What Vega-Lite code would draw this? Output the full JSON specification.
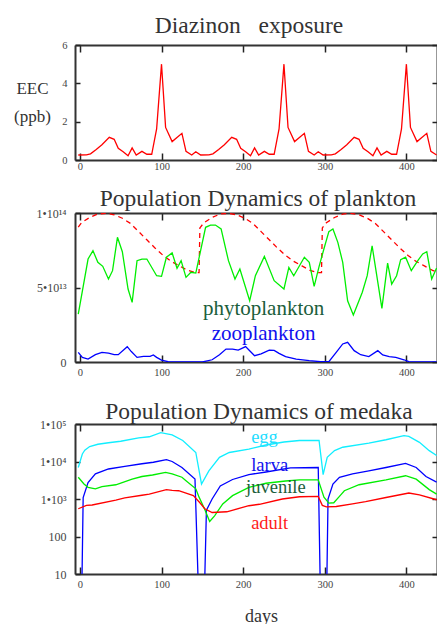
{
  "$schema": "https://vega.github.io/schema/vega-lite/v6.json",
  "padding": {"left": 13, "top": 13, "right": 0, "bottom": 0},
  "spacing": 0,
  "bounds": "flush",
  "resolve": {"scale": {"color": "independent"}},
  "config": {
    "view": {"stroke": null},
    "axis": {"labelFont": "Liberation Serif", "labelFontSize": 10.5, "labelColor": "#444", "tickColor": "#222", "tickWidth": 1.5, "domainColor": "#333", "domainWidth": 2, "grid": false, "titleFont": "Liberation Serif", "titleFontWeight": "normal", "titleColor": "#333", "labelOverlap": false},
    "title": {"font": "Liberation Serif", "fontSize": 23.5, "fontWeight": "normal", "color": "#333", "baseline": "alphabetic"}
  },
  "datasets": {
    "eec": [
      {"day": -2, "value": 0.26}, {"day": 8, "value": 0.27}, {"day": 13, "value": 0.32}, {"day": 20, "value": 0.55}, {"day": 27, "value": 0.8}, {"day": 36, "value": 1.18}, {"day": 42, "value": 1.08}, {"day": 47, "value": 0.61}, {"day": 53, "value": 0.43}, {"day": 59, "value": 0.22}, {"day": 64, "value": 0.63}, {"day": 69, "value": 0.26}, {"day": 76, "value": 0.45}, {"day": 82, "value": 0.3}, {"day": 88, "value": 0.3}, {"day": 94, "value": 1.62}, {"day": 100, "value": 5.0}, {"day": 105, "value": 1.7}, {"day": 113, "value": 0.96}, {"day": 125, "value": 1.39}, {"day": 130, "value": 0.45}, {"day": 137, "value": 0.26}, {"day": 142, "value": 0.43}, {"day": 148, "value": 0.26},
      {"day": 158, "value": 0.27}, {"day": 163, "value": 0.32}, {"day": 170, "value": 0.55}, {"day": 177, "value": 0.8}, {"day": 186, "value": 1.18}, {"day": 192, "value": 1.08}, {"day": 197, "value": 0.61}, {"day": 203, "value": 0.43}, {"day": 209, "value": 0.22}, {"day": 214, "value": 0.63}, {"day": 219, "value": 0.26}, {"day": 226, "value": 0.45}, {"day": 232, "value": 0.3}, {"day": 238, "value": 0.3}, {"day": 244, "value": 1.62}, {"day": 250, "value": 5.0}, {"day": 255, "value": 1.7}, {"day": 263, "value": 0.96}, {"day": 275, "value": 1.39}, {"day": 280, "value": 0.45}, {"day": 287, "value": 0.26}, {"day": 292, "value": 0.43}, {"day": 298, "value": 0.26},
      {"day": 308, "value": 0.27}, {"day": 313, "value": 0.32}, {"day": 320, "value": 0.55}, {"day": 327, "value": 0.8}, {"day": 336, "value": 1.18}, {"day": 342, "value": 1.08}, {"day": 347, "value": 0.61}, {"day": 353, "value": 0.43}, {"day": 359, "value": 0.22}, {"day": 364, "value": 0.63}, {"day": 369, "value": 0.26}, {"day": 376, "value": 0.45}, {"day": 382, "value": 0.3}, {"day": 388, "value": 0.3}, {"day": 394, "value": 1.62}, {"day": 400, "value": 5.0}, {"day": 405, "value": 1.7}, {"day": 413, "value": 0.96}, {"day": 425, "value": 1.39}, {"day": 430, "value": 0.45}, {"day": 437, "value": 0.26}
    ],
    "cap": [
      {"day": -2, "value": 9.05e13}, {"day": 2, "value": 9.35e13}, {"day": 12, "value": 9.7e13}, {"day": 22, "value": 9.93e13}, {"day": 32, "value": 9.98e13}, {"day": 42, "value": 9.88e13}, {"day": 52, "value": 9.65e13}, {"day": 62, "value": 9.3e13}, {"day": 72, "value": 8.75e13}, {"day": 82, "value": 8.2e13}, {"day": 92, "value": 7.65e13}, {"day": 102, "value": 7.15e13}, {"day": 112, "value": 6.75e13}, {"day": 122, "value": 6.45e13}, {"day": 132, "value": 6.15e13}, {"day": 142, "value": 6.0e13}, {"day": 146, "value": 6.0e13},
      {"day": 147, "value": 9.0e13}, {"day": 152, "value": 9.35e13}, {"day": 162, "value": 9.7e13}, {"day": 172, "value": 9.93e13}, {"day": 182, "value": 9.98e13}, {"day": 192, "value": 9.88e13}, {"day": 202, "value": 9.65e13}, {"day": 212, "value": 9.3e13}, {"day": 222, "value": 8.75e13}, {"day": 232, "value": 8.2e13}, {"day": 242, "value": 7.65e13}, {"day": 252, "value": 7.15e13}, {"day": 262, "value": 6.75e13}, {"day": 272, "value": 6.45e13}, {"day": 282, "value": 6.15e13}, {"day": 292, "value": 6.0e13}, {"day": 296, "value": 6.0e13},
      {"day": 297, "value": 9.0e13}, {"day": 302, "value": 9.35e13}, {"day": 312, "value": 9.7e13}, {"day": 322, "value": 9.93e13}, {"day": 332, "value": 9.98e13}, {"day": 342, "value": 9.88e13}, {"day": 352, "value": 9.65e13}, {"day": 362, "value": 9.3e13}, {"day": 372, "value": 8.75e13}, {"day": 382, "value": 8.2e13}, {"day": 392, "value": 7.65e13}, {"day": 402, "value": 7.15e13}, {"day": 412, "value": 6.75e13}, {"day": 422, "value": 6.45e13}, {"day": 432, "value": 6.15e13}, {"day": 437, "value": 6.05e13}
    ],
    "phyto": [
      {"day": -2, "value": 3.22e13}, {"day": 10, "value": 6.91e13}, {"day": 16, "value": 7.47e13}, {"day": 22, "value": 6.69e13}, {"day": 28, "value": 6.42e13}, {"day": 35, "value": 5.57e13}, {"day": 40, "value": 6.13e13}, {"day": 46, "value": 8.37e13}, {"day": 52, "value": 7.4e13}, {"day": 59, "value": 4.9e13}, {"day": 64, "value": 4.0e13}, {"day": 70, "value": 6.8e13}, {"day": 76, "value": 6.91e13}, {"day": 82, "value": 6.91e13}, {"day": 94, "value": 5.79e13}, {"day": 100, "value": 5.75e13}, {"day": 106, "value": 7.03e13}, {"day": 113, "value": 7.32e13}, {"day": 119, "value": 6.29e13}, {"day": 124, "value": 6.8e13}, {"day": 130, "value": 5.68e13}, {"day": 136, "value": 6.02e13}, {"day": 142, "value": 5.97e13}, {"day": 154, "value": 9.04e13}, {"day": 160, "value": 9.19e13}, {"day": 166, "value": 9.19e13}, {"day": 173, "value": 8.93e13}, {"day": 182, "value": 6.8e13}, {"day": 190, "value": 5.57e13}, {"day": 196, "value": 6.24e13}, {"day": 208, "value": 4.11e13}, {"day": 215, "value": 5.79e13}, {"day": 226, "value": 7.09e13}, {"day": 238, "value": 5.46e13}, {"day": 250, "value": 4.9e13}, {"day": 256, "value": 6.35e13}, {"day": 262, "value": 5.79e13}, {"day": 275, "value": 7.03e13}, {"day": 281, "value": 6.69e13}, {"day": 287, "value": 5.08e13}, {"day": 293, "value": 6.4e13}, {"day": 299, "value": 7.6e13}, {"day": 305, "value": 8.75e13}, {"day": 310, "value": 8.93e13}, {"day": 316, "value": 8.03e13}, {"day": 322, "value": 6.69e13}, {"day": 328, "value": 4.11e13}, {"day": 335, "value": 3.15e13}, {"day": 346, "value": 4.68e13}, {"day": 352, "value": 5.79e13}, {"day": 358, "value": 7.8e13}, {"day": 370, "value": 3.6e13}, {"day": 377, "value": 6.64e13}, {"day": 382, "value": 5.23e13}, {"day": 388, "value": 5.79e13}, {"day": 393, "value": 6.87e13}, {"day": 399, "value": 7.03e13}, {"day": 406, "value": 6.13e13}, {"day": 414, "value": 6.8e13}, {"day": 420, "value": 7.25e13}, {"day": 425, "value": 7.4e13}, {"day": 431, "value": 5.57e13}, {"day": 437, "value": 6.3e13}
    ],
    "zoo": [
      {"day": -2, "value": 6.5e12}, {"day": 3, "value": 3.1e12}, {"day": 10, "value": 2.0e12}, {"day": 19, "value": 4.9e12}, {"day": 27, "value": 6.5e12}, {"day": 35, "value": 6.0e12}, {"day": 42, "value": 4.9e12}, {"day": 47, "value": 4.9e12}, {"day": 58, "value": 1.03e13}, {"day": 63, "value": 7.0e12}, {"day": 70, "value": 3.1e12}, {"day": 78, "value": 3.8e12}, {"day": 86, "value": 3.8e12}, {"day": 90, "value": 4.7e12}, {"day": 94, "value": 3.1e12}, {"day": 100, "value": 1.3e12}, {"day": 108, "value": 2.0e11}, {"day": 120, "value": 0}, {"day": 150, "value": 0}, {"day": 162, "value": 1.5e12}, {"day": 171, "value": 4.9e12}, {"day": 179, "value": 8.7e12}, {"day": 187, "value": 8.7e12}, {"day": 194, "value": 8.0e12}, {"day": 203, "value": 1.03e13}, {"day": 208, "value": 7.5e12}, {"day": 214, "value": 4.2e12}, {"day": 222, "value": 5.4e12}, {"day": 232, "value": 8.0e12}, {"day": 238, "value": 7.8e12}, {"day": 244, "value": 5.8e12}, {"day": 252, "value": 3.6e12}, {"day": 265, "value": 2.0e12}, {"day": 281, "value": 9.0e11}, {"day": 295, "value": 2.0e11}, {"day": 305, "value": 2.0e11}, {"day": 314, "value": 6.5e12}, {"day": 322, "value": 1.21e13}, {"day": 328, "value": 1.32e13}, {"day": 336, "value": 7.6e12}, {"day": 344, "value": 4.9e12}, {"day": 354, "value": 3.6e12}, {"day": 365, "value": 7.6e12}, {"day": 371, "value": 4.7e12}, {"day": 379, "value": 3.6e12}, {"day": 387, "value": 3.1e12}, {"day": 397, "value": 1.5e12}, {"day": 403, "value": 2.0e11}, {"day": 410, "value": 0}, {"day": 437, "value": 0}
    ],
    "egg": [
      {"day": -2, "value": 6918}, {"day": 3, "value": 15850}, {"day": 6, "value": 19950}, {"day": 12, "value": 25120}, {"day": 22, "value": 28840}, {"day": 35, "value": 31620}, {"day": 50, "value": 34670}, {"day": 72, "value": 42660}, {"day": 85, "value": 45710}, {"day": 99, "value": 58880}, {"day": 113, "value": 51290}, {"day": 126, "value": 36310}, {"day": 142, "value": 17380}, {"day": 149, "value": 2512}, {"day": 158, "value": 5623}, {"day": 171, "value": 12880}, {"day": 183, "value": 17380}, {"day": 207, "value": 21380}, {"day": 228, "value": 27540}, {"day": 250, "value": 33110}, {"day": 269, "value": 36310}, {"day": 293, "value": 36310}, {"day": 298, "value": 4467}, {"day": 303, "value": 12880}, {"day": 312, "value": 19500}, {"day": 322, "value": 23990}, {"day": 354, "value": 30900}, {"day": 375, "value": 38020}, {"day": 397, "value": 48980}, {"day": 403, "value": 46770}, {"day": 416, "value": 32360}, {"day": 428, "value": 19500}, {"day": 437, "value": 14450}
    ],
    "larva": [
      {"day": 0, "value": 1}, {"day": 2, "value": 1}, {"day": 4, "value": 1096}, {"day": 10, "value": 2754}, {"day": 19, "value": 4677}, {"day": 35, "value": 6310}, {"day": 55, "value": 7413}, {"day": 76, "value": 8710}, {"day": 90, "value": 9550}, {"day": 106, "value": 11220}, {"day": 113, "value": 10000}, {"day": 125, "value": 6918}, {"day": 141, "value": 3388}, {"day": 146, "value": 1}, {"day": 152, "value": 1}, {"day": 155, "value": 501}, {"day": 162, "value": 1000}, {"day": 172, "value": 2239}, {"day": 187, "value": 3311}, {"day": 207, "value": 4467}, {"day": 228, "value": 5248}, {"day": 258, "value": 6761}, {"day": 292, "value": 6918}, {"day": 295, "value": 1}, {"day": 302, "value": 1}, {"day": 304, "value": 1000}, {"day": 310, "value": 2512}, {"day": 318, "value": 3802}, {"day": 334, "value": 4677}, {"day": 354, "value": 5623}, {"day": 375, "value": 6918}, {"day": 399, "value": 8913}, {"day": 412, "value": 6918}, {"day": 424, "value": 3981}, {"day": 437, "value": 2818}
    ],
    "juvenile": [
      {"day": -2, "value": 3802}, {"day": 5, "value": 2512}, {"day": 10, "value": 2042}, {"day": 19, "value": 1862}, {"day": 27, "value": 2138}, {"day": 44, "value": 2399}, {"day": 64, "value": 3388}, {"day": 76, "value": 3981}, {"day": 89, "value": 4365}, {"day": 105, "value": 5129}, {"day": 113, "value": 4677}, {"day": 125, "value": 3802}, {"day": 130, "value": 3090}, {"day": 142, "value": 1862}, {"day": 146, "value": 1122}, {"day": 153, "value": 525}, {"day": 159, "value": 251}, {"day": 165, "value": 355}, {"day": 175, "value": 741}, {"day": 187, "value": 1230}, {"day": 207, "value": 2042}, {"day": 228, "value": 2630}, {"day": 252, "value": 3020}, {"day": 269, "value": 3236}, {"day": 292, "value": 3236}, {"day": 299, "value": 1122}, {"day": 305, "value": 776}, {"day": 311, "value": 794}, {"day": 318, "value": 1175}, {"day": 324, "value": 1660}, {"day": 342, "value": 2399}, {"day": 375, "value": 3236}, {"day": 399, "value": 4169}, {"day": 412, "value": 3388}, {"day": 428, "value": 1778}, {"day": 437, "value": 1349}
    ],
    "adult": [
      {"day": -2, "value": 550}, {"day": 8, "value": 676}, {"day": 15, "value": 692}, {"day": 44, "value": 933}, {"day": 55, "value": 1072}, {"day": 76, "value": 1259}, {"day": 85, "value": 1349}, {"day": 106, "value": 1778}, {"day": 113, "value": 1698}, {"day": 121, "value": 1660}, {"day": 139, "value": 1230}, {"day": 147, "value": 794}, {"day": 153, "value": 550}, {"day": 162, "value": 437}, {"day": 180, "value": 457}, {"day": 207, "value": 661}, {"day": 220, "value": 724}, {"day": 248, "value": 1000}, {"day": 269, "value": 1148}, {"day": 292, "value": 1175}, {"day": 297, "value": 676}, {"day": 302, "value": 617}, {"day": 314, "value": 631}, {"day": 334, "value": 741}, {"day": 350, "value": 851}, {"day": 375, "value": 1096}, {"day": 403, "value": 1445}, {"day": 416, "value": 1288}, {"day": 437, "value": 955}
    ],
    "plabels": [
      {"label": "phytoplankton", "day": 225, "value": 3.17e13},
      {"label": "zooplankton", "day": 225, "value": 1.48e13}
    ],
    "mlabels": [
      {"label": "egg", "day": 209.8, "value": 30550},
      {"label": "larva", "day": 209.8, "value": 5690},
      {"label": "juvenile", "day": 203.6, "value": 1419},
      {"label": "adult", "day": 209.8, "value": 158.5}
    ]
  },
  "vconcat": [
    {
      "width": 362, "height": 115,
      "title": {"text": "Diazinon\u00a0\u00a0\u00a0exposure", "offset": 3, "dx": -7},
      "layer": [
        {
          "data": {"name": "eec"},
          "mark": {"type": "line", "color": "#ff0000", "strokeWidth": 1.3, "clip": true},
          "encoding": {
            "x": {"field": "day", "type": "quantitative", "scale": {"domain": [-6, 437.5], "nice": false, "zero": false}, "axis": {"orient": "bottom", "values": [0, 100, 200, 300, 400], "title": null, "tickSize": -7, "labelPadding": 8, "labelFlush": false}},
            "y": {"field": "value", "type": "quantitative", "scale": {"domain": [0, 6], "nice": false}, "axis": {"orient": "left", "values": [0, 2, 4, 6], "tickSize": -5, "labelPadding": 13, "title": ["EEC", "(ppb)"], "titleAngle": 0, "titleAlign": "center", "titleBaseline": "alphabetic", "titleX": -43, "titleY": 48, "titleFontSize": 17, "titleLineHeight": 28}}
          }
        },
        {
          "data": {"name": "eec"},
          "mark": {"type": "line", "opacity": 0},
          "encoding": {
            "x": {"field": "day", "type": "quantitative", "scale": {"domain": [-6, 437.5], "nice": false, "zero": false}, "axis": {"orient": "top", "values": [0, 100, 200, 300, 400], "title": null, "labels": false, "tickSize": -7}},
            "y": {"field": "value", "type": "quantitative", "scale": {"domain": [0, 6], "nice": false}, "axis": {"orient": "right", "values": [0, 2, 4, 6], "title": null, "labels": false, "tickSize": -5}}
          }
        }
      ],
      "resolve": {"axis": {"x": "independent", "y": "independent"}}
    },
    {"width": 362, "height": 53, "data": {"values": []}, "mark": {"type": "point", "opacity": 0}},
    {
      "width": 362, "height": 149,
      "title": {"text": "Population Dynamics of plankton", "offset": -3, "dx": 2},
      "layer": [
        {
          "data": {"name": "cap"},
          "mark": {"type": "line", "color": "#ff0000", "strokeWidth": 1.3, "strokeDash": [5, 4], "clip": true},
          "encoding": {
            "x": {"field": "day", "type": "quantitative", "scale": {"domain": [-6, 437.5], "nice": false, "zero": false}, "axis": null},
            "y": {"field": "value", "type": "quantitative", "scale": {"domain": [0, 1e14], "nice": false}, "axis": null}
          }
        },
        {
          "data": {"name": "phyto"},
          "mark": {"type": "line", "color": "#00ee00", "strokeWidth": 1.3, "clip": true},
          "encoding": {
            "x": {"field": "day", "type": "quantitative", "scale": {"domain": [-6, 437.5], "nice": false, "zero": false}, "axis": {"orient": "bottom", "values": [0, 100, 200, 300, 400], "title": null, "tickSize": -7, "labelPadding": 12, "labelFlush": false}},
            "y": {"field": "value", "type": "quantitative", "scale": {"domain": [0, 1e14], "nice": false}, "axis": {"orient": "left", "values": [0, 5e13, 1e14], "tickSize": -5, "labelPadding": 14, "labelFontSize": 12, "title": null, "labelExpr": "datum.value >= 9e13 ? '1•10¹⁴' : datum.value >= 4e13 ? '5•10¹³' : '0'"}}
          }
        },
        {
          "data": {"name": "zoo"},
          "mark": {"type": "line", "color": "#0000ff", "strokeWidth": 1.3, "clip": true},
          "encoding": {
            "x": {"field": "day", "type": "quantitative", "scale": {"domain": [-6, 437.5], "nice": false, "zero": false}, "axis": {"orient": "top", "values": [0, 100, 200, 300, 400], "title": null, "labels": false, "tickSize": -7}},
            "y": {"field": "value", "type": "quantitative", "scale": {"domain": [0, 1e14], "nice": false}, "axis": {"orient": "right", "values": [0, 5e13, 1e14], "title": null, "labels": false, "tickSize": -5}}
          }
        },
        {
          "data": {"name": "plabels"},
          "mark": {"type": "text", "font": "Liberation Serif", "fontSize": 21, "align": "center", "baseline": "alphabetic"},
          "encoding": {
            "x": {"field": "day", "type": "quantitative", "scale": {"domain": [-6, 437.5], "nice": false, "zero": false}, "axis": null},
            "y": {"field": "value", "type": "quantitative", "scale": {"domain": [0, 1e14], "nice": false}, "axis": null},
            "text": {"field": "label"},
            "color": {"field": "label", "type": "nominal", "scale": {"domain": ["phytoplankton", "zooplankton"], "range": ["#1b5e3b", "#1010ee"]}, "legend": null}
          }
        }
      ],
      "resolve": {"axis": {"x": "independent", "y": "independent"}}
    },
    {"width": 362, "height": 62, "data": {"values": []}, "mark": {"type": "point", "opacity": 0}},
    {
      "width": 362, "height": 150,
      "title": {"text": "Population Dynamics of medaka", "offset": -5.5, "dx": 3},
      "layer": [
        {
          "data": {"name": "egg"},
          "mark": {"type": "line", "color": "#11eeff", "strokeWidth": 1.3, "clip": true},
          "encoding": {
            "x": {"field": "day", "type": "quantitative", "scale": {"domain": [-6, 437.5], "nice": false, "zero": false}, "axis": {"orient": "bottom", "values": [0, 100, 200, 300, 400], "tickSize": -7, "labelPadding": 12, "labelFlush": false, "title": "days", "titleFontSize": 18, "titleX": 186, "titleY": 47, "titleAlign": "center", "titleBaseline": "alphabetic"}},
            "y": {"field": "value", "type": "quantitative", "scale": {"type": "log", "domain": [10, 100000], "nice": false}, "axis": {"orient": "left", "values": [10, 100, 1000, 10000, 100000], "tickSize": -5, "labelPadding": 14, "labelFontSize": 12, "title": null, "labelExpr": "datum.value >= 99999 ? '1•10⁵' : datum.value >= 9999 ? '1•10⁴' : datum.value >= 999 ? '1•10³' : datum.value >= 99 ? '100' : '10'"}}
          }
        },
        {
          "data": {"name": "larva"},
          "mark": {"type": "line", "color": "#0000ff", "strokeWidth": 1.3, "clip": true},
          "encoding": {
            "x": {"field": "day", "type": "quantitative", "scale": {"domain": [-6, 437.5], "nice": false, "zero": false}, "axis": {"orient": "top", "values": [0, 100, 200, 300, 400], "title": null, "labels": false, "tickSize": -7}},
            "y": {"field": "value", "type": "quantitative", "scale": {"type": "log", "domain": [10, 100000], "nice": false}, "axis": {"orient": "right", "values": [10, 100, 1000, 10000, 100000], "title": null, "labels": false, "tickSize": -5}}
          }
        },
        {
          "data": {"name": "juvenile"},
          "mark": {"type": "line", "color": "#00ee00", "strokeWidth": 1.3, "clip": true},
          "encoding": {
            "x": {"field": "day", "type": "quantitative", "scale": {"domain": [-6, 437.5], "nice": false, "zero": false}, "axis": null},
            "y": {"field": "value", "type": "quantitative", "scale": {"type": "log", "domain": [10, 100000], "nice": false}, "axis": null}
          }
        },
        {
          "data": {"name": "adult"},
          "mark": {"type": "line", "color": "#ff0000", "strokeWidth": 1.3, "clip": true},
          "encoding": {
            "x": {"field": "day", "type": "quantitative", "scale": {"domain": [-6, 437.5], "nice": false, "zero": false}, "axis": null},
            "y": {"field": "value", "type": "quantitative", "scale": {"type": "log", "domain": [10, 100000], "nice": false}, "axis": null}
          }
        },
        {
          "data": {"name": "mlabels"},
          "mark": {"type": "text", "font": "Liberation Serif", "fontSize": 18.5, "align": "left", "baseline": "alphabetic"},
          "encoding": {
            "x": {"field": "day", "type": "quantitative", "scale": {"domain": [-6, 437.5], "nice": false, "zero": false}, "axis": null},
            "y": {"field": "value", "type": "quantitative", "scale": {"type": "log", "domain": [10, 100000], "nice": false}, "axis": null},
            "text": {"field": "label"},
            "color": {"field": "label", "type": "nominal", "scale": {"domain": ["egg", "larva", "juvenile", "adult"], "range": ["#22ddff", "#1010ee", "#1b5e3b", "#ff1a1a"]}, "legend": null}
          }
        }
      ],
      "resolve": {"axis": {"x": "independent", "y": "independent"}}
    }
  ]
}
